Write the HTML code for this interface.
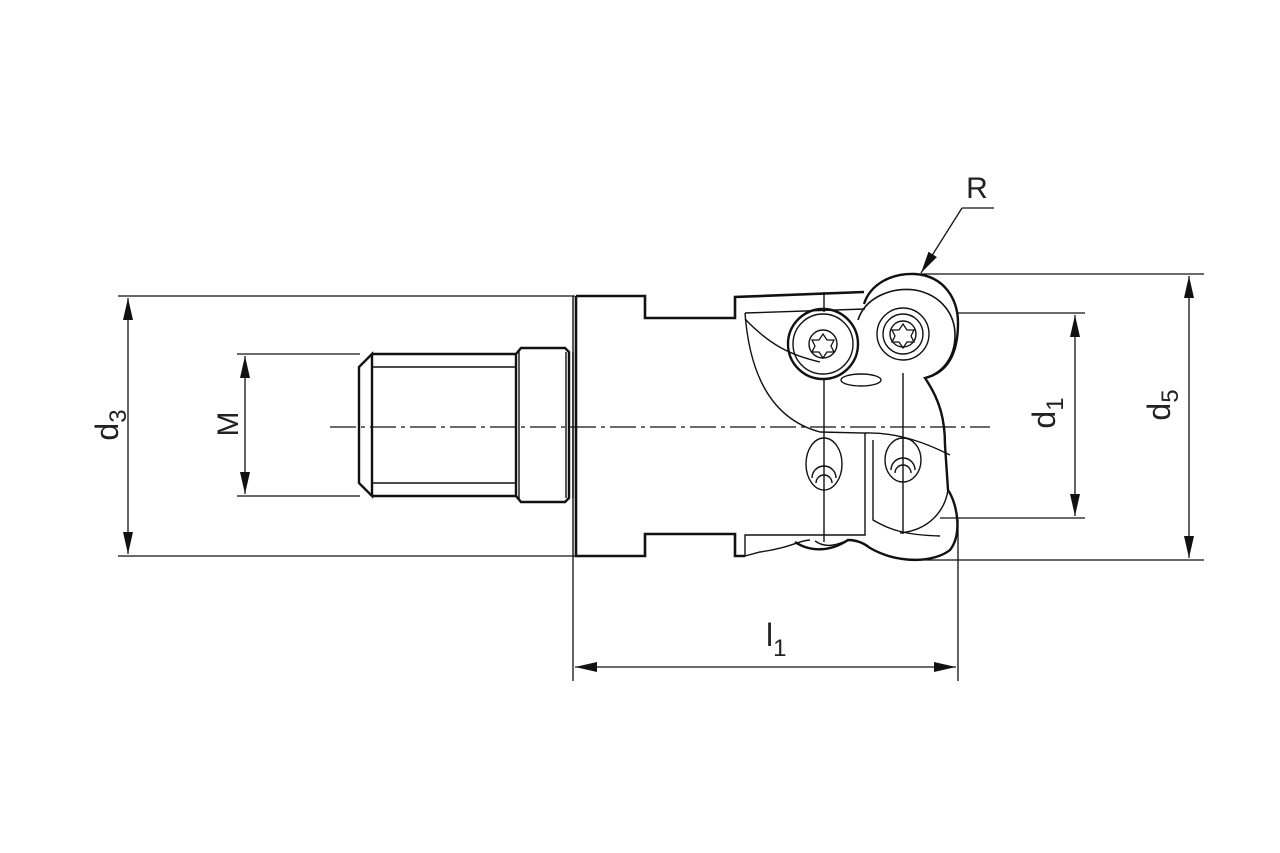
<!DOCTYPE html>
<html><head><meta charset="utf-8"><style>
html,body{margin:0;padding:0;background:#fff;}
svg{display:block;}
text{font-family:"Liberation Sans",Arial,sans-serif;fill:#222;}
</style></head><body>
<svg width="1280" height="853" viewBox="0 0 1280 853" xmlns="http://www.w3.org/2000/svg">
<defs>
<marker id="a" markerWidth="22" markerHeight="10" refX="22" refY="5" orient="auto-start-reverse" markerUnits="userSpaceOnUse" viewBox="0 0 22 10">
<path d="M0,0 L22,5 L0,10 Z" fill="#111"/></marker>
</defs>
<g stroke="#111" fill="none">
<g stroke-width="1.3">
<line x1="118" y1="296" x2="575" y2="296"/>
<line x1="118" y1="556" x2="575" y2="556"/>
<line x1="128" y1="298" x2="128" y2="554" marker-start="url(#a)" marker-end="url(#a)"/>
<line x1="237" y1="354" x2="360" y2="354"/>
<line x1="237" y1="496" x2="360" y2="496"/>
<line x1="245" y1="356" x2="245" y2="494" marker-start="url(#a)" marker-end="url(#a)"/>
<line x1="958" y1="313" x2="1085" y2="313"/>
<line x1="940" y1="518" x2="1085" y2="518"/>
<line x1="1075" y1="315" x2="1075" y2="516" marker-start="url(#a)" marker-end="url(#a)"/>
<line x1="920" y1="274" x2="1204" y2="274"/>
<line x1="918" y1="560" x2="1204" y2="560"/>
<line x1="1189" y1="276" x2="1189" y2="558" marker-start="url(#a)" marker-end="url(#a)"/>
<line x1="573" y1="556" x2="573" y2="681"/>
<line x1="958" y1="520" x2="958" y2="681"/>
<line x1="575" y1="667" x2="956" y2="667" marker-start="url(#a)" marker-end="url(#a)"/>
<line x1="994" y1="208" x2="962" y2="208"/>
<line x1="962" y1="208" x2="921" y2="273" marker-end="url(#a)"/>
</g>
<line x1="330" y1="427" x2="990" y2="427" stroke-width="1.2" stroke-dasharray="26,5,4,5"/>
<g stroke-width="2.4">
<path d="M372,354 L516,354 M372,496 L516,496 M372,354 L359,367 L359,483 L372,496 Z"/>
<path d="M516,354 L516,496"/>
<path d="M516,354 L521,348 L565,348 L569,352 L569,498 L565,502 L521,502 L516,496"/>
</g>
<g stroke-width="1.4">
<line x1="372" y1="367" x2="516" y2="367"/>
<line x1="372" y1="483" x2="516" y2="483"/>
<line x1="519" y1="350" x2="519" y2="500"/>
<line x1="566" y1="352" x2="566" y2="498"/>
<line x1="573" y1="352" x2="573" y2="498"/>
</g>
<g stroke-width="2.6">
<path d="M576,296 L645,296 L645,318 L735,318 L735,297 L864,292 M576,296 L576,556 L645,556 L645,534 L735,534 L735,556 L745,556"/>
</g>
<g stroke-width="1.4">
<line x1="573" y1="296" x2="573" y2="556"/>
<line x1="824" y1="292" x2="824" y2="312"/>
<path d="M745,313 L865,309"/>
<path d="M745,313 C750,380 775,420 820,432 L865,433 L865,535 L745,535 L745,556 L760,552 C790,548 800,540 810,540"/>
<path d="M745,319 C770,345 790,355 820,362"/>
<path d="M865,433 C900,432 930,445 950,455"/>
<path d="M873,440 L873,520 C890,530 905,535 940,536"/>
<line x1="824" y1="378" x2="824" y2="542"/>
<line x1="903" y1="373" x2="903" y2="534"/>
<ellipse cx="861" cy="380" rx="20" ry="6"/>
<ellipse cx="824" cy="464" rx="18" ry="26"/>
<path d="M812,478 a12,12 0 0 1 24,0 M816,483 a8,8 0 0 1 16,0"/>
<ellipse cx="903" cy="460" rx="18" ry="22"/>
<path d="M891,470 a12,12 0 0 1 24,0 M895,473 a8,8 0 0 1 16,0"/>
<circle cx="823" cy="344" r="30"/>
<circle cx="823" cy="344" r="14"/>
<circle cx="903" cy="334" r="26"/>
<circle cx="903" cy="334" r="20"/>
<circle cx="903" cy="334" r="13"/>
<path d="M815,541 C825,548 835,546 848,540"/>
</g>
<g stroke-width="2.4">
<circle cx="823" cy="344" r="35"/>
<path d="M864,304 C870,285 890,273 915,274 C945,276 958,300 958,323 C958,350 950,372 925,378 C940,400 945,420 945,445 L948,490 C958,505 962,535 950,550 C935,562 900,565 870,548 C860,540 850,540 848,540 C830,552 810,552 795,542"/>
<path d="M858,320 C865,298 890,287 915,290 C942,295 955,315 955,335 C955,355 945,372 925,378" stroke-width="1.6"/>
<path d="M948,490 C945,510 930,530 900,533" stroke-width="1.4"/>
</g>
<g stroke-width="1.3">
<path d="M823,334 l4,6 7,0 -3,6 3,6 -7,0 -4,6 -4,-6 -7,0 3,-6 -3,-6 7,0 z"/>
<path d="M903,324 l4,6 7,0 -3,6 3,6 -7,0 -4,6 -4,-6 -7,0 3,-6 -3,-6 7,0 z"/>
</g>
</g>
<text x="977" y="198" font-size="30" text-anchor="middle">R</text>
<g transform="translate(118,425) rotate(-90)"><text font-size="32" text-anchor="middle">d<tspan font-size="24" dy="8">3</tspan></text></g>
<g transform="translate(238,424) rotate(-90)"><text font-size="30" text-anchor="middle">M</text></g>
<g transform="translate(1055,413) rotate(-90)"><text font-size="32" text-anchor="middle">d<tspan font-size="24" dy="8">1</tspan></text></g>
<g transform="translate(1170,405) rotate(-90)"><text font-size="32" text-anchor="middle">d<tspan font-size="24" dy="8">5</tspan></text></g>
<text x="766" y="646" font-size="32">l<tspan font-size="24" dy="10">1</tspan></text>
</svg>
</body></html>
